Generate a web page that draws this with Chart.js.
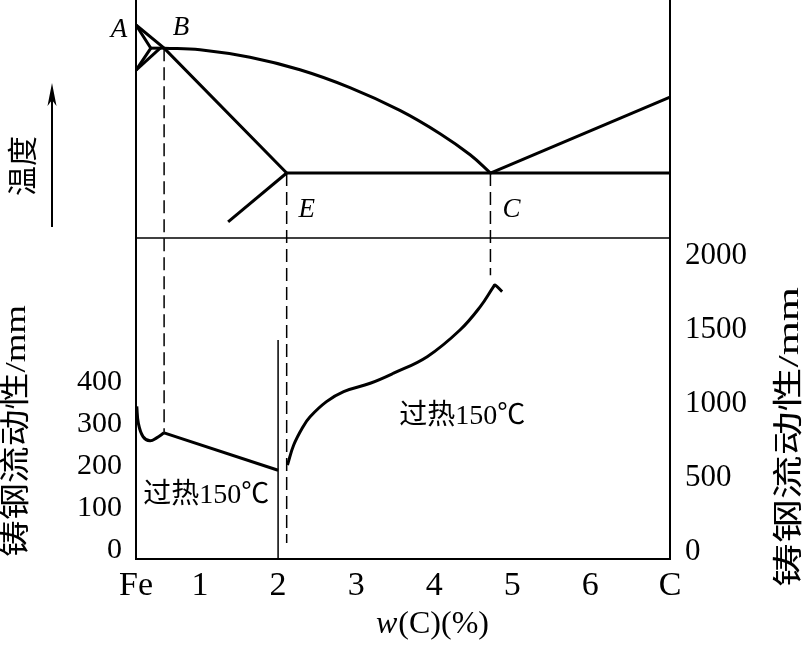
<!DOCTYPE html>
<html><head><meta charset="utf-8">
<script src="https://cdn.jsdelivr.net/npm/chart.js@4.4.1/dist/chart.umd.min.js"></script>
<style>html,body{margin:0;padding:0;background:#fff;}#wrap{width:806px;height:646px;}</style>
</head><body><div id="wrap"><canvas id="c" width="806" height="646"></canvas></div>
<script>
// ---------------- data ----------------
const xTickValues = [0.18, 1, 2, 3, 4, 5, 6, 7.02];
const xTickLabels = ['Fe', '1', '2', '3', '4', '5', '6', 'C'];
const leftTicks  = [0, 100, 200, 300, 400];
const rightTicks = [0, 500, 1000, 1500, 2000];

// phase diagram (temperature, °C)
const solidusX  = [0.18, 0.54, 2.11];          // A - B - E
const solidusT  = [1538, 1477, 1148];
const deltaX    = [0.18, 0.37, 0.18];          // A - H - N
const deltaT    = [1538, 1477, 1419];
const periX     = [0.37, 0.54];                // H - B
const periT     = [1477, 1477];
const njX       = [0.18, 0.49];                // N - J
const njT       = [1419, 1477];
const liquidusX = [0.54, 1.0, 1.64, 2.28, 2.92, 3.56, 4.08, 4.46, 4.72];
const liquidusT = [1477, 1473, 1453, 1420, 1373, 1313, 1251, 1196, 1148];
const hyperX    = [4.72, 7.02];
const hyperT    = [1148, 1348];
const eutecticX = [2.11, 7.02];
const eutecticT = [1148, 1148];
const eLineX    = [1.36, 2.11];
const eLineT    = [1019, 1148];
const dividerT  = 977;

// fluidity of cast steel (left axis, mm)
const steelCurveX = [0.19, 0.21, 0.27, 0.36, 0.445, 0.54];
const steelCurveV = [342, 302, 270, 260, 267, 279];
const steelLineX  = [0.54, 2.0];
const steelLineV  = [279, 190];
// fluidity of cast iron (right axis, mm)
const ironX = [2.12, 2.2, 2.32, 2.41, 2.62, 2.84, 3.18, 3.48, 3.91, 4.33, 4.59, 4.76, 4.78, 4.87];
const ironV = [588, 723, 847, 914, 1016, 1084, 1140, 1208, 1320, 1500, 1658, 1793, 1804, 1759];

// key compositions
const compB = 0.54, compE = 2.11, compC = 4.72, compSteelLimit = 2.0;
const tempB = 1477, tempEC = 1148;
const connEndLeftB = 279, connEndRightE = 60, connEndRightC = 1870, steelLimitTop = 500;

// ---------------- chart ----------------
const X_MIN = 0.18, X_MAX = 7.02;
const YL_MIN = -21.4, YL_MAX = 1309.5;
const YR_MIN = -47.3, YR_MAX = 3729.7;
const YT_MIN = 130.9, YT_MAX = 1603.9;
const SERIF = "'Liberation Serif','Times New Roman',serif";
const MIXED = "'Liberation Serif','Noto Sans CJK SC',serif";

function pts(xs, ys) { return xs.map((x, i) => ({x, y: ys[i]})); }
function line(xs, ys, axis, extra) {
  return Object.assign({data: pts(xs, ys), yAxisID: axis, showLine: true, borderColor: '#000',
    borderWidth: 3, pointRadius: 0, tension: 0, fill: false}, extra || {});
}

const datasets = [
  line(solidusX, solidusT, 'yT'),
  line(deltaX, deltaT, 'yT'),
  line(periX, periT, 'yT'),
  line(njX, njT, 'yT'),
  line(liquidusX, liquidusT, 'yT', {tension: 0.4}),
  line(hyperX, hyperT, 'yT'),
  line(eutecticX, eutecticT, 'yT'),
  line(eLineX, eLineT, 'yT'),
  line([X_MIN, X_MAX], [dividerT, dividerT], 'yT', {borderWidth: 1.5}),
  line(steelCurveX, steelCurveV, 'yL', {tension: 0.4}),
  line(steelLineX, steelLineV, 'yL'),
  line([compSteelLimit, compSteelLimit], [steelLimitTop, YL_MIN], 'yL', {borderWidth: 1.5}),
  line(ironX, ironV, 'yR', {tension: 0.4})
];

const bgPlugin = {
  id: 'bg',
  beforeDraw(chart) {
    const c = chart.ctx; c.save(); c.fillStyle = '#fff'; c.fillRect(0, 0, chart.width, chart.height); c.restore();
  }
};

function vtext(ctx, s, cx, cy, font, len) {
  ctx.save(); ctx.translate(cx, cy); ctx.rotate(-Math.PI / 2); ctx.font = font;
  const w = ctx.measureText(s).width; const k = len ? len / w : 1;
  ctx.scale(k, 1); ctx.textAlign = 'center'; ctx.textBaseline = 'middle'; ctx.fillText(s, 0, 0); ctx.restore();
}

const annoPlugin = {
  id: 'anno',
  afterDatasetsDraw(chart) {
    const ctx = chart.ctx, sx = chart.scales.x, yT = chart.scales.yT, yL = chart.scales.yL, yR = chart.scales.yR;
    ctx.save();
    ctx.strokeStyle = '#000'; ctx.fillStyle = '#000';
    // dashed connectors
    ctx.lineWidth = 1.5; ctx.setLineDash([13, 6]);
    const conn = (x, p1, p2) => { const px = sx.getPixelForValue(x); ctx.beginPath(); ctx.moveTo(px, p1); ctx.lineTo(px, p2); ctx.stroke(); };
    conn(compB, yT.getPixelForValue(tempB), yL.getPixelForValue(connEndLeftB));
    conn(compE, yT.getPixelForValue(tempEC), yR.getPixelForValue(connEndRightE));
    conn(compC, yT.getPixelForValue(tempEC), yR.getPixelForValue(connEndRightC));
    ctx.setLineDash([]);

    // point letters
    ctx.font = 'italic 27px ' + SERIF; ctx.textAlign = 'center'; ctx.textBaseline = 'middle';
    const bx = sx.getPixelForValue(compB), by = yT.getPixelForValue(tempB);
    ctx.fillText('A', sx.getPixelForValue(X_MIN) - 17, yT.getPixelForValue(1538) + 5);
    ctx.fillText('B', bx + 17, by - 20);
    ctx.fillText('E', sx.getPixelForValue(compE) + 20, yT.getPixelForValue(tempEC) + 37);
    ctx.fillText('C', sx.getPixelForValue(compC) + 21, yT.getPixelForValue(tempEC) + 37);

    // superheat labels
    ctx.font = '28px ' + MIXED;
    ctx.fillText('过热150℃', sx.getPixelForValue(1.08), yL.getPixelForValue(130));
    ctx.fillText('过热150℃', sx.getPixelForValue(4.36), yR.getPixelForValue(915));

    // temperature label + arrow
    vtext(ctx, '温度', 22, 166, "30px 'Noto Sans CJK SC'", 0);
    ctx.lineWidth = 2; ctx.beginPath(); ctx.moveTo(52, 227); ctx.lineTo(52, 98); ctx.stroke();
    ctx.beginPath(); ctx.moveTo(52, 83); ctx.lineTo(47.5, 106); ctx.lineTo(52, 100); ctx.lineTo(56.5, 106); ctx.closePath(); ctx.fill();

    // axis titles
    vtext(ctx, '铸钢流动性/mm', 17, 431, '30px ' + MIXED, 252);
    vtext(ctx, '铸钢流动性/mm', 790, 437, '30px ' + MIXED, 300);

    // x title w(C)(%)
    ctx.textBaseline = 'middle'; ctx.textAlign = 'left';
    ctx.font = 'italic 32px ' + SERIF; const w1 = ctx.measureText('w').width;
    ctx.font = '32px ' + SERIF; const w2 = ctx.measureText('(C)(%)').width;
    const x0 = 432 - (w1 + w2) / 2;
    ctx.font = 'italic 32px ' + SERIF; ctx.fillText('w', x0, 625);
    ctx.font = '32px ' + SERIF; ctx.fillText('(C)(%)', x0 + w1 + 1, 625);
    ctx.restore();
  }
};

new Chart(document.getElementById('c'), {
  type: 'scatter',
  data: {datasets},
  options: {
    responsive: false, animation: false, devicePixelRatio: 1,
    layout: {padding: 0},
    plugins: {legend: {display: false}, tooltip: {enabled: false}},
    scales: {
      x: {
        type: 'linear', position: 'bottom', min: X_MIN, max: X_MAX,
        grid: {display: false, drawTicks: false},
        border: {display: true, color: '#000', width: 2},
        ticks: {autoSkip: false, maxRotation: 0, padding: 7, color: '#000', font: {family: SERIF, size: 34},
          callback: (v, i) => xTickLabels[i]},
        afterBuildTicks: s => { s.ticks = xTickValues.map(v => ({value: v})); },
        afterFit: s => { s.height = 87; s.paddingLeft = 0; s.paddingRight = 0; }
      },
      yL: {
        type: 'linear', position: 'left', min: YL_MIN, max: YL_MAX,
        grid: {display: false, drawTicks: false},
        border: {display: true, color: '#000', width: 2},
        ticks: {padding: 14, color: '#000', font: {family: SERIF, size: 30}, callback: v => String(v)},
        afterBuildTicks: s => { s.ticks = leftTicks.map(v => ({value: v})); },
        afterFit: s => { s.width = 136; s.paddingTop = 0; s.paddingBottom = 0; }
      },
      yR: {
        type: 'linear', position: 'right', min: YR_MIN, max: YR_MAX,
        grid: {display: false, drawTicks: false},
        border: {display: true, color: '#000', width: 2},
        ticks: {padding: 15, color: '#000', font: {family: SERIF, size: 31}, callback: v => String(v)},
        afterBuildTicks: s => { s.ticks = rightTicks.map(v => ({value: v})); },
        afterFit: s => { s.width = 136; s.paddingTop = 0; s.paddingBottom = 0; }
      },
      yT: {type: 'linear', display: false, min: YT_MIN, max: YT_MAX}
    }
  },
  plugins: [bgPlugin, annoPlugin]
});
</script></body></html>
